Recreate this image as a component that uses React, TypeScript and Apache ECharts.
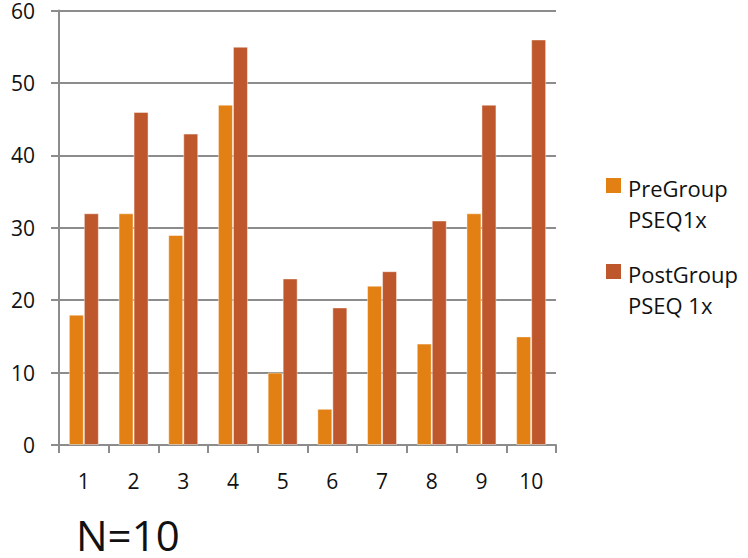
import React, { useEffect, useRef } from "react";
import * as echarts from "echarts";

const categories = ["1", "2", "3", "4", "5", "6", "7", "8", "9", "10"];
const preGroup = [18, 32, 29, 47, 10, 5, 22, 14, 32, 15];
const postGroup = [32, 46, 43, 55, 23, 19, 24, 31, 47, 56];
const seriesNames = ["PreGroup\nPSEQ1x", "PostGroup\nPSEQ 1x"];
const seriesColors = ["#E28013", "#BE582C"];
const footnote = "N=10";

const FONT = "'Open Sans', 'Noto Sans', sans-serif";

export default function App() {
  const ref = useRef<HTMLDivElement>(null);

  useEffect(() => {
    document.body.style.margin = "0";
    if (!ref.current) return;
    const chart = echarts.init(ref.current, undefined, { renderer: "svg" });

    const legendItems: any[] = [];
    seriesNames.forEach((name, i) => {
      const top = 178 + i * 86;
      legendItems.push({
        type: "rect",
        left: 606,
        top: top,
        shape: { width: 15, height: 15 },
        style: { fill: seriesColors[i] },
      });
      legendItems.push({
        type: "text",
        left: 628,
        top: top - 6,
        style: {
          text: name,
          font: `22px ${FONT}`,
          lineHeight: 31,
          fill: "#111",
        },
      });
    });

    chart.setOption({
      animation: false,
      grid: { left: 59, right: 192, top: 10, bottom: 113 },
      xAxis: {
        type: "category",
        data: categories,
        axisLine: { lineStyle: { color: "#8c8c8c", width: 2 } },
        axisTick: { show: true, length: 8, lineStyle: { color: "#8c8c8c", width: 2 } },
        axisLabel: { color: "#111", fontFamily: FONT, fontSize: 21, margin: 25 },
      },
      yAxis: {
        type: "value",
        min: 0,
        max: 60,
        interval: 10,
        axisLine: { show: true, lineStyle: { color: "#8c8c8c", width: 2 } },
        axisTick: { show: true, length: 8, lineStyle: { color: "#8c8c8c", width: 2 } },
        axisLabel: { color: "#111", fontFamily: FONT, fontSize: 21, lineHeight: 18, margin: 24 },
        splitLine: { show: true, lineStyle: { color: "#8c8c8c", width: 2 } },
      },
      series: [
        {
          name: seriesNames[0],
          type: "bar",
          data: preGroup,
          barWidth: 15,
          barGap: "0%",
          itemStyle: { color: seriesColors[0], borderColor: "rgba(255,255,255,0.45)", borderWidth: 1 },
        },
        {
          name: seriesNames[1],
          type: "bar",
          data: postGroup,
          barWidth: 15,
          barGap: "0%",
          itemStyle: { color: seriesColors[1], borderColor: "rgba(255,255,255,0.45)", borderWidth: 1 },
        },
      ],
      graphic: [
        ...legendItems,
        {
          type: "text",
          left: 76,
          top: 513,
          style: { text: footnote, font: `42px ${FONT}`, lineHeight: 42, fill: "#111" },
        },
      ],
    });

    return () => chart.dispose();
  }, []);

  return <div ref={ref} style={{ width: 748, height: 558 }} />;
}
